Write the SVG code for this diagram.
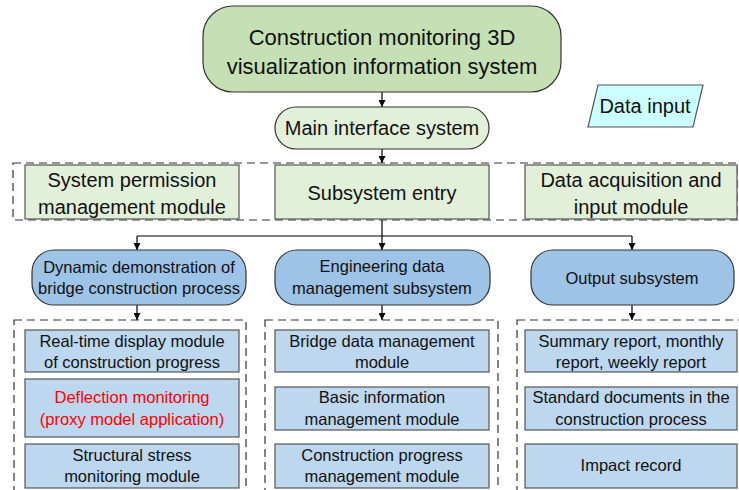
<svg xmlns="http://www.w3.org/2000/svg" width="739" height="490" viewBox="0 0 739 490">
<style>
text{font-family:"Liberation Sans",Arial,sans-serif;fill:#111;text-anchor:middle}
.t22{font-size:22px}.t20{font-size:20px}.t17{font-size:16.5px}
.green{fill:#c5e0b4;stroke:#333;stroke-width:1.2}
.lgreen{fill:#e2f0d9;stroke:#333;stroke-width:1.2}
.box{fill:#e2f0d9;stroke:#555;stroke-width:1.2}
.blue{fill:#9dc3e6;stroke:#333;stroke-width:1.2}
.inner{fill:#bdd7ee;stroke:#555;stroke-width:1.2}
.dash{fill:none;stroke:#333;stroke-width:1.2;stroke-dasharray:8,5}
.line{fill:none;stroke:#000;stroke-width:1.2}
</style>
<defs>
<marker id="arr" viewBox="0 0 10 10" refX="10" refY="5" markerWidth="7" markerHeight="7" markerUnits="userSpaceOnUse" orient="auto">
<path d="M0,0 L10,5 L0,10 z" fill="#000"/>
</marker>
</defs>
<rect width="739" height="490" fill="#fff"/>
<g id="groups">
<rect class="dash" x="13" y="163" width="724" height="57"/>
<rect class="dash" x="14" y="320" width="232" height="180"/>
<rect class="dash" x="265" y="320" width="233" height="180"/>
<rect class="dash" x="517" y="320" width="232" height="180"/>
</g>
<g id="connectors">
<line class="line" x1="382" y1="92" x2="382" y2="107" marker-end="url(#arr)"/>
<line class="line" x1="382" y1="149" x2="382" y2="163" marker-end="url(#arr)"/>
<polyline class="line" points="382,220 382,236"/>
<line class="line" x1="137" y1="236" x2="632" y2="236"/>
<line class="line" x1="137" y1="236" x2="137" y2="250" marker-end="url(#arr)"/>
<line class="line" x1="382" y1="236" x2="382" y2="250" marker-end="url(#arr)"/>
<line class="line" x1="632" y1="236" x2="632" y2="250" marker-end="url(#arr)"/>
<line class="line" x1="137" y1="305" x2="137" y2="320" marker-end="url(#arr)"/>
<line class="line" x1="382" y1="305" x2="382" y2="320" marker-end="url(#arr)"/>
<line class="line" x1="632" y1="305" x2="632" y2="320" marker-end="url(#arr)"/>
</g>
<g id="top">
<rect class="green" x="203" y="6" width="358" height="86" rx="30"/>
<text class="t22" x="382" y="45">Construction monitoring 3D</text>
<text class="t22" x="382" y="74">visualization information system</text>
</g>
<g id="main">
<rect class="lgreen" x="275" y="107" width="214" height="42" rx="21"/>
<text class="t20" x="382" y="135">Main interface system</text>
</g>
<g id="datainput">
<polygon points="598,85 703,85 693,127 588,127" fill="#ccffff" stroke="#555" stroke-width="1.2"/>
<text class="t20" x="645" y="113">Data input</text>
</g>
<g id="permission">
<rect class="box" x="25" y="165" width="214" height="54"/>
<text class="t20" x="132" y="187">System permission</text>
<text class="t20" x="132" y="214">management module</text>
</g>
<g id="entry">
<rect class="box" x="275" y="165" width="214" height="54"/>
<text class="t20" x="382" y="200">Subsystem entry</text>
</g>
<g id="acquisition">
<rect class="box" x="525" y="165" width="212" height="54"/>
<text class="t20" x="631" y="187">Data acquisition and</text>
<text class="t20" x="631" y="214">input module</text>
</g>
<g id="dynamic">
<rect class="blue" x="32" y="250" width="214" height="55" rx="22"/>
<text class="t17" x="139" y="273">Dynamic demonstration of</text>
<text class="t17" x="139" y="294">bridge construction process</text>
</g>
<g id="engineering">
<rect class="blue" x="275" y="250" width="215" height="55" rx="22"/>
<text class="t17" x="382" y="272">Engineering data</text>
<text class="t17" x="382" y="294">management subsystem</text>
</g>
<g id="output">
<rect class="blue" x="531" y="250" width="203" height="55" rx="22"/>
<text class="t17" x="632" y="284">Output subsystem</text>
</g>
<g id="realtime">
<rect class="inner" x="25" y="330" width="214" height="42"/>
<text class="t17" x="132" y="347">Real-time display module</text>
<text class="t17" x="132" y="368">of construction progress</text>
</g>
<g id="deflection">
<rect class="inner" x="25" y="379" width="214" height="58"/>
<text class="t17" x="132" y="403" style="fill:#ff0000">Deflection monitoring</text>
<text class="t17" x="132" y="425" style="fill:#ff0000">(proxy model application)</text>
</g>
<g id="stress">
<rect class="inner" x="25" y="444" width="214" height="44"/>
<text class="t17" x="132" y="461">Structural stress</text>
<text class="t17" x="132" y="482">monitoring module</text>
</g>
<g id="bridgedata">
<rect class="inner" x="275" y="330" width="214" height="42"/>
<text class="t17" x="382" y="347">Bridge data management</text>
<text class="t17" x="382" y="368">module</text>
</g>
<g id="basicinfo">
<rect class="inner" x="275" y="387" width="214" height="43"/>
<text class="t17" x="382" y="403">Basic information</text>
<text class="t17" x="382" y="425">management module</text>
</g>
<g id="progress">
<rect class="inner" x="275" y="444" width="214" height="44"/>
<text class="t17" x="382" y="461">Construction progress</text>
<text class="t17" x="382" y="482">management module</text>
</g>
<g id="summary">
<rect class="inner" x="525" y="330" width="212" height="42"/>
<text class="t17" x="631" y="347">Summary report, monthly</text>
<text class="t17" x="631" y="368">report, weekly report</text>
</g>
<g id="standard">
<rect class="inner" x="525" y="387" width="212" height="43"/>
<text class="t17" x="631" y="403">Standard documents in the</text>
<text class="t17" x="631" y="425">construction process</text>
</g>
<g id="impact">
<rect class="inner" x="525" y="444" width="212" height="44"/>
<text class="t17" x="631" y="471">Impact record</text>
</g>
</svg>
